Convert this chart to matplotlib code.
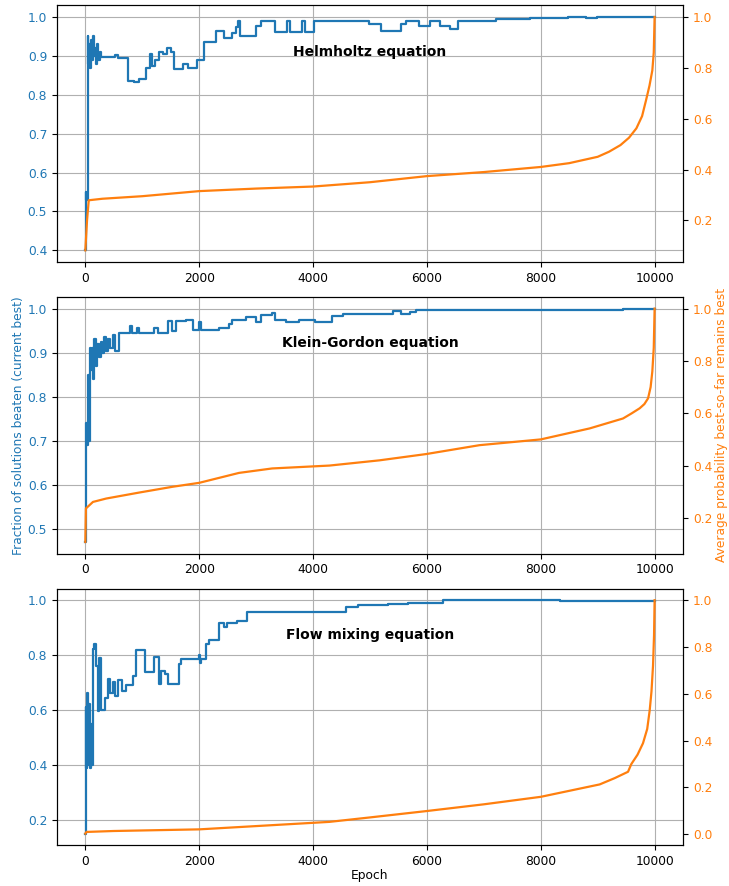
import numpy as np
import matplotlib.pyplot as plt

# Helmholtz equation
helm_blue_epoch = [0, 10, 20, 40, 55, 70, 85, 100, 115, 130, 150, 170, 190, 210, 230, 250, 280, 530, 580,
                   746, 850, 950, 1067, 1130, 1170, 1230, 1300, 1360, 1440, 1510, 1562, 1708, 1796, 1970,
                   2087, 2291, 2437, 2583, 2650, 2688, 2710, 2990, 3078, 3340, 3545, 3600, 3807, 3865,
                   4011, 4991, 5200, 5548, 5636, 5870, 6046, 6222, 6398, 6544, 7218, 7804, 8478, 8800,
                   8980, 10000]
helm_blue = [0.40, 0.55, 0.53, 0.95, 0.88, 0.93, 0.87, 0.94, 0.89, 0.95, 0.90, 0.92, 0.88, 0.93, 0.89, 0.91,
             0.897, 0.903, 0.895, 0.835, 0.832, 0.84, 0.87, 0.905, 0.875, 0.89, 0.91, 0.905, 0.92, 0.91,
             0.865, 0.88, 0.87, 0.89, 0.935, 0.963, 0.946, 0.96, 0.975, 0.99, 0.95, 0.978, 0.99, 0.961,
             0.99, 0.961, 0.99, 0.961, 0.99, 0.983, 0.963, 0.983, 0.99, 0.978, 0.99, 0.978, 0.97, 0.99,
             0.995, 0.997, 1.0, 0.997, 1.0, 1.0]
helm_orange_epoch = [0, 30, 60, 300, 1000, 2000, 3000, 4000, 5000, 6000, 7000, 8000, 8500, 9000, 9200,
                     9400, 9550, 9680, 9780, 9850, 9910, 9960, 9985, 10000]
helm_orange = [0.082, 0.20, 0.279, 0.285, 0.295, 0.315, 0.325, 0.333, 0.350, 0.374, 0.39, 0.41, 0.425,
               0.45, 0.47, 0.496, 0.525, 0.562, 0.61, 0.673, 0.73, 0.79, 0.86, 1.0]

# Klein-Gordon equation
kg_blue_epoch = [0, 8, 15, 25, 40, 60, 80, 100, 120, 140, 160, 185, 210, 240, 270, 300, 330, 360, 400, 440,
                 480, 520, 600, 780, 820, 900, 950, 1210, 1270, 1446, 1530, 1590, 1766, 1883, 1990, 2030,
                 2350, 2524, 2583, 2816, 2991, 3078, 3282, 3340, 3520, 3750, 4040, 4330, 4522, 5401, 5550,
                 5700, 5811, 9445, 10000]
kg_blue = [0.471, 0.60, 0.74, 0.69, 0.85, 0.70, 0.91, 0.86, 0.91, 0.84, 0.93, 0.87, 0.92, 0.89, 0.925,
           0.90, 0.935, 0.905, 0.93, 0.91, 0.94, 0.905, 0.945, 0.96, 0.945, 0.955, 0.945, 0.956, 0.945,
           0.971, 0.95, 0.971, 0.975, 0.952, 0.97, 0.952, 0.956, 0.965, 0.975, 0.98, 0.97, 0.985, 0.99,
           0.975, 0.97, 0.975, 0.97, 0.983, 0.988, 0.994, 0.988, 0.992, 0.997, 1.0, 1.0]
kg_orange_epoch = [0, 10, 134, 367, 950, 1533, 2000, 2700, 3282, 4288, 5167, 5987, 6925, 8000, 8859, 9445,
                   9600, 9738, 9820, 9885, 9930, 9960, 9985, 10000]
kg_orange = [0.108, 0.236, 0.261, 0.274, 0.297, 0.319, 0.334, 0.372, 0.389, 0.40, 0.42, 0.444, 0.478,
             0.50, 0.542, 0.58, 0.60, 0.619, 0.635, 0.657, 0.70, 0.76, 0.85, 1.0]

# Flow mixing equation
flow_blue_epoch = [0, 5, 10, 15, 20, 35, 50, 65, 80, 95, 110, 134, 152, 192, 222, 239, 280, 338, 396, 430,
                   480, 530, 580, 640, 717, 834, 892, 1055, 1213, 1288, 1330, 1400, 1446, 1650, 1679, 1990,
                   2010, 2029, 2116, 2175, 2350, 2437, 2495, 2670, 2845, 4581, 4786, 5314, 5665, 6280,
                   8331, 10000]
flow_blue = [0.152, 0.37, 0.55, 0.61, 0.39, 0.66, 0.40, 0.62, 0.39, 0.55, 0.40, 0.822, 0.84, 0.76, 0.595,
             0.79, 0.60, 0.644, 0.712, 0.66, 0.70, 0.65, 0.71, 0.67, 0.69, 0.724, 0.816, 0.736, 0.791,
             0.693, 0.74, 0.73, 0.693, 0.767, 0.785, 0.80, 0.77, 0.785, 0.84, 0.853, 0.914, 0.90, 0.915,
             0.923, 0.957, 0.972, 0.979, 0.984, 0.987, 0.998, 0.994, 0.994]
flow_orange_epoch = [0, 20, 500, 2000, 3000, 4288, 5000, 5987, 7000, 8000, 9035, 9300, 9533, 9591, 9700,
                     9796, 9870, 9914, 9945, 9972, 9990, 10000]
flow_orange = [0.003, 0.01, 0.014, 0.021, 0.035, 0.053, 0.072, 0.099, 0.128, 0.16, 0.213, 0.24, 0.267,
               0.30, 0.34, 0.389, 0.45, 0.53, 0.61, 0.72, 0.85, 1.0]

titles = ['Helmholtz equation', 'Klein-Gordon equation', 'Flow mixing equation']
blue_epochs = [helm_blue_epoch, kg_blue_epoch, flow_blue_epoch]
blues = [helm_blue, kg_blue, flow_blue]
orange_epochs = [helm_orange_epoch, kg_orange_epoch, flow_orange_epoch]
oranges = [helm_orange, kg_orange, flow_orange]
left_ticks = [np.arange(0.4, 1.01, 0.1), np.arange(0.5, 1.01, 0.1), np.arange(0.2, 1.01, 0.2)]
right_ticks = [np.arange(0.2, 1.01, 0.2), np.arange(0.2, 1.01, 0.2), np.arange(0.0, 1.01, 0.2)]

fs = 8.8
fig, axes = plt.subplots(3, 1, figsize=(7.29, 8.86), dpi=100)
fig.subplots_adjust(left=0.078, right=0.937, top=0.994, bottom=0.046, hspace=0.136)

for i in range(3):
    ax = axes[i]
    ax2 = ax.twinx()
    ax.plot(blue_epochs[i], blues[i], color='tab:blue', lw=1.6, drawstyle='steps-post')
    ax2.plot(orange_epochs[i], oranges[i], color='tab:orange', lw=1.6)
    ax.set_xticks([0, 2000, 4000, 6000, 8000, 10000])
    ax.set_yticks(left_ticks[i])
    ax.set_yticklabels(['%.1f' % v for v in left_ticks[i]])
    ax2.set_yticks(right_ticks[i])
    ax2.set_yticklabels(['%.1f' % v for v in right_ticks[i]])
    ax.tick_params(axis='y', labelcolor='tab:blue', labelsize=fs)
    ax.tick_params(axis='x', labelsize=fs)
    ax2.tick_params(axis='y', labelcolor='tab:orange', labelsize=fs)
    ax.grid(True)
    ax.text(0.5, 0.82, titles[i], transform=ax.transAxes, ha='center', va='center',
            fontsize=10, fontweight='bold')
    if i == 1:
        ax.set_ylabel('Fraction of solutions beaten (current best)', color='tab:blue', fontsize=fs,
                      labelpad=2)
        ax2.set_ylabel('Average probability best-so-far remains best', color='tab:orange', fontsize=fs,
                       labelpad=2)

axes[2].set_xlabel('Epoch', fontsize=fs, labelpad=1)
plt.savefig('out.png', dpi=100)
